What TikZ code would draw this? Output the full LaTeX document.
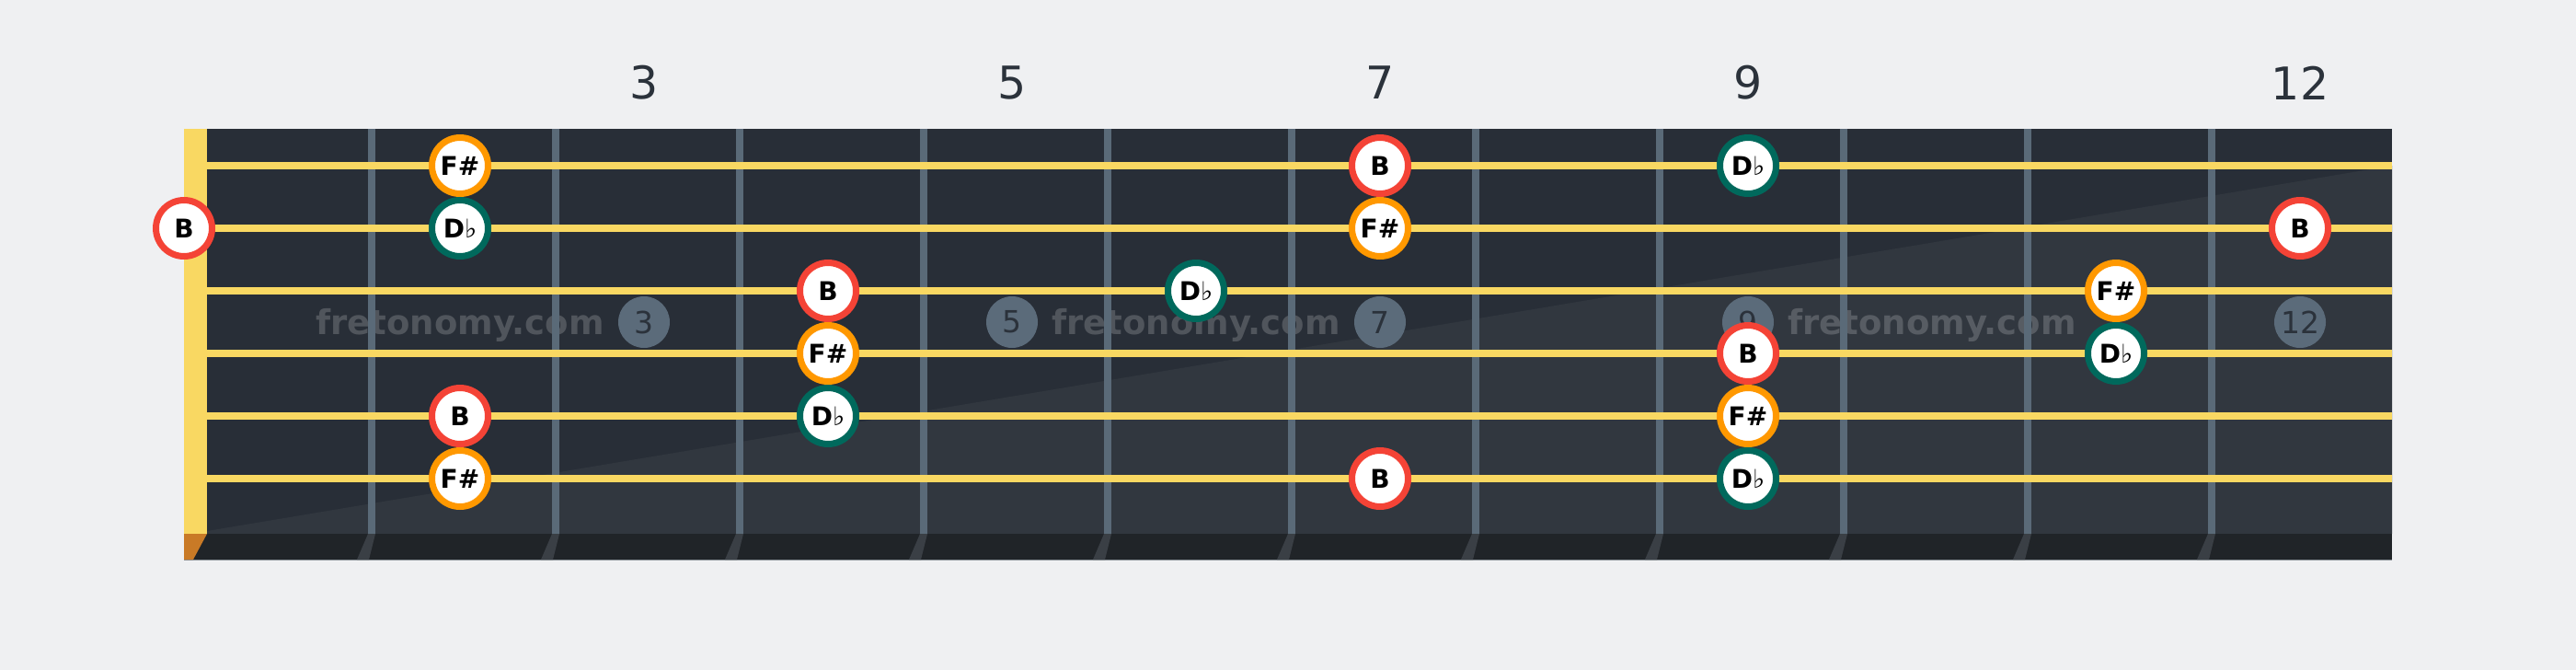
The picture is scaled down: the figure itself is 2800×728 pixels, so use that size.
\documentclass[tikz,border=0pt]{standalone}
\usepackage{fontspec}
\setmainfont{DejaVu Sans}
\usepackage{xcolor}
\usepackage{tikz}

\definecolor{bgcol}{HTML}{EFF0F2}
\definecolor{boardcol}{HTML}{282E37}
\definecolor{boardlight}{HTML}{31373F}
\definecolor{stripcol}{HTML}{202428}
\definecolor{stripline}{HTML}{878D93}
\definecolor{fretcol}{HTML}{5A6A78}
\definecolor{fretshade}{HTML}{3A3F45}
\definecolor{stringcol}{HTML}{F9D862}
\definecolor{nutcorner}{HTML}{C97A26}
\definecolor{rootcol}{HTML}{F44336}
\definecolor{fifthcol}{HTML}{FF9800}
\definecolor{thirdcol}{HTML}{00695C}
\definecolor{markcol}{HTML}{5B6B7A}
\definecolor{numcol}{HTML}{2B323B}

\newcommand{\notefont}{\fontsize{28}{30}\selectfont\bfseries}
\newcommand{\flatsign}{{\mdseries ♭}}

\tikzset{
  note/.style={circle, draw, line width=7pt, fill=white, minimum size=61pt,
    inner sep=0pt, text=black, font=\notefont},
  rootnote/.style={note, draw=rootcol},
  fifthnote/.style={note, draw=fifthcol},
  thirdnote/.style={note, draw=thirdcol},
  marker/.style={circle, fill=markcol, minimum size=56pt, inner sep=0pt,
    text=numcol, font=\fontsize{33}{35}\selectfont},
  fretnum/.style={text=numcol, inner sep=0pt, font=\fontsize{49}{50}\selectfont},
  wmark/.style={text=white, text opacity=0.19, inner sep=0pt, anchor=base,
    font=\fontsize{37}{40}\selectfont\bfseries},
  stringline/.style={draw=stringcol, line width=8pt}
}

\begin{document}
\begin{tikzpicture}[x=1pt,y=-1pt]
	\fill[bgcol] (0,0) rectangle (2800,728);
	
	% board, shading, bottom edge, nut
	\fill[boardcol] (225,140) rectangle (2600,580);
	\fill[boardlight] (225,577) -- (2600,180) -- (2600,580) -- (225,580) -- cycle;
	\fill[stripcol] (200,580) rectangle (2600,608);
	\draw[stripline, line width=1.5pt] (200,608.5) -- (2600,608.5);
	\fill[nutcorner] (200,580) -- (225,580) -- (210,608) -- (200,608) -- cycle;
	\fill[stringcol] (200,140) rectangle (225,580);
	
	% watermark
	\foreach \x in {500,1300,2100}
		\node[wmark] (wm\x) at (\x,363) {fretonomy.com};
	
	% frets
	\foreach \k in {1,...,11} {
		\pgfmathsetmacro\fx{404+200*(\k-1)}
		\fill[fretcol] (\fx-4,140) rectangle (\fx+4,580);
		\fill[fretshade] (\fx-4,580) -- (\fx+4,580) -- (\fx-3,608) -- (\fx-16,608) -- cycle;
	}
	
	% inlays and fret numbers
	\foreach \f in {3,5,7,9,12} {
		\node[marker] (m\f) at (100+200*\f,350) {\f};
		\node[fretnum] (n\f) at (100+200*\f,90) {\f};
	}
	
	% strings
	\foreach \s in {1,...,6}
		\draw[stringline] (225,112+68*\s) -- (2600,112+68*\s);
	
	% notes: string/fret/kind/label
	\foreach \s/\f/\kind/\txt in {
		1/2/fifthnote/{F\#}, 1/7/rootnote/B, 1/9/thirdnote/{D\flatsign},
		2/0/rootnote/B, 2/2/thirdnote/{D\flatsign}, 2/7/fifthnote/{F\#}, 2/12/rootnote/B,
		3/4/rootnote/B, 3/6/thirdnote/{D\flatsign}, 3/11/fifthnote/{F\#},
		4/4/fifthnote/{F\#}, 4/9/rootnote/B, 4/11/thirdnote/{D\flatsign},
		5/2/rootnote/B, 5/4/thirdnote/{D\flatsign}, 5/9/fifthnote/{F\#},
		6/2/fifthnote/{F\#}, 6/7/rootnote/B, 6/9/thirdnote/{D\flatsign}} {
		\pgfmathsetmacro\nx{ifthenelse(\f==0,200,100+200*\f)}
		\node[\kind] (s\s-\f) at (\nx,112+68*\s) {\txt};
	}
\end{tikzpicture}
\end{document}
